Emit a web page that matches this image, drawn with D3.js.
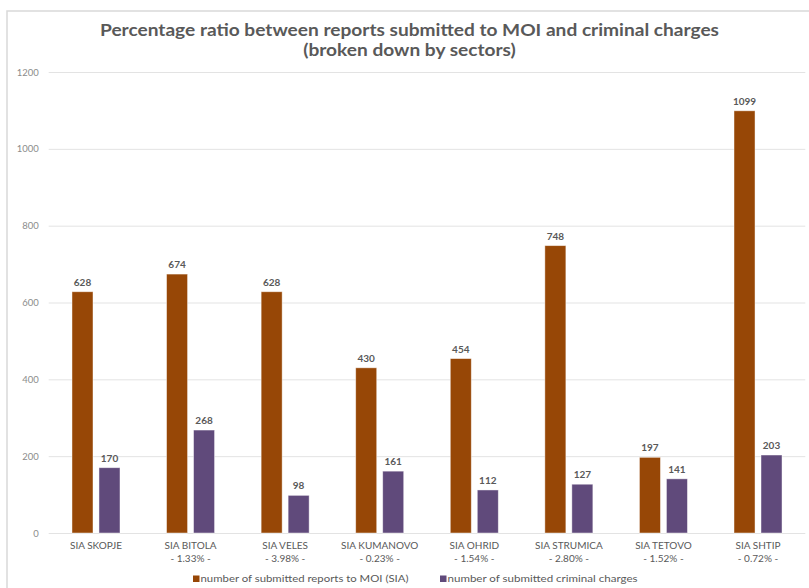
<!DOCTYPE html>
<html>
<head>
<meta charset="utf-8">
<script src="https://cdn.jsdelivr.net/npm/d3@7"></script>
<style>
  html, body { margin: 0; padding: 0; background: #fff; }
  svg { display: block; font-family: Lato, "Open Sans", sans-serif; }
</style>
</head>
<body>
<svg id="chart" width="809" height="588"></svg>
<script>
// Sectors and their percentage sub-labels
const sectors = ["SIA SKOPJE", "SIA BITOLA", "SIA VELES", "SIA KUMANOVO", "SIA OHRID", "SIA STRUMICA", "SIA TETOVO", "SIA SHTIP"];
const sectorPercents = ["", "- 1.33% -", "- 3.98% -", "- 0.23% -", "- 1.54% -", "- 2.80% -", "- 1.52% -", "- 0.72% -"];

// Series
const seriesNames = ["number of submitted reports to MOI (SIA)", "number of submitted criminal charges"];
const reportsToMOI = [628, 674, 628, 430, 454, 748, 197, 1099];
const criminalCharges = [170, 268, 98, 161, 112, 127, 141, 203];
const seriesColors = ["#974706", "#604a7b"];

// Axis ticks
const yTicks = [0, 200, 400, 600, 800, 1000, 1200];

const titleLines = ["Percentage ratio between reports submitted to MOI and criminal charges", "(broken down by sectors)"];

const svg = d3.select("#chart");
const W = 809, H = 588;

// Outer chart frame
svg.append("rect")
  .attr("x", 7).attr("y", 11)
  .attr("width", W + 20).attr("height", H + 20)
  .attr("fill", "#fff")
  .attr("stroke", "#d9d9d9").attr("stroke-width", 1.5);

// Title (slightly widened glyphs, as in the chart's typeface)
const titleWidth = 619;
const titleNodes = titleLines.map((t, i) => svg.append("text")
  .attr("x", 409.5).attr("y", 36 + i * 20)
  .attr("text-anchor", "middle")
  .attr("fill", "#595959")
  .attr("font-weight", "bold")
  .attr("font-size", 17)
  .text(t));
const stretch = titleWidth / titleNodes[0].node().getComputedTextLength();
titleNodes.forEach(n => {
  n.attr("textLength", n.node().getComputedTextLength() * stretch)
   .attr("lengthAdjust", "spacingAndGlyphs");
});

const plot = { left: 48.7, right: 805.3, top: 72, bottom: 533 };

const x0 = d3.scaleBand().domain(sectors).range([plot.left, plot.right]).padding(0);
const groupHalf = 24;
const x1 = d3.scaleBand().domain(seriesNames)
  .range([x0.bandwidth() / 2 - groupHalf, x0.bandwidth() / 2 + groupHalf])
  .paddingInner(0.222).paddingOuter(0);
const y = d3.scaleLinear().domain([0, 1200]).range([plot.bottom, plot.top]);

// Gridlines + y labels
const yAxis = d3.axisLeft(y).tickValues(yTicks).tickSize(-(plot.right - plot.left)).tickPadding(10).tickFormat(d3.format("d"));
const gy = svg.append("g").attr("transform", `translate(${plot.left},0)`).call(yAxis);
gy.select(".domain").remove();
gy.selectAll(".tick line").attr("stroke", "#e3e3e3").attr("stroke-width", 1);
gy.selectAll(".tick text").attr("fill", "#8c8c8c").attr("font-size", 9.5).attr("font-family", "Lato, sans-serif");

// Bars
const seriesValues = [reportsToMOI, criminalCharges];
const groups = svg.append("g").selectAll("g")
  .data(sectors)
  .join("g")
  .attr("transform", d => `translate(${x0(d)},0)`);

const barData = (d, i) => seriesNames.map((s, k) => ({ series: s, k, value: seriesValues[k][i] }));

groups.each(function (d, i) {
  const g = d3.select(this);
  const data = barData(d, i);
  g.selectAll("rect").data(data).join("rect")
    .attr("x", b => x1(b.series))
    .attr("width", x1.bandwidth())
    .attr("y", b => y(b.value))
    .attr("height", b => y(0) - y(b.value))
    .attr("fill", b => seriesColors[b.k])
    .attr("stroke", "rgba(255,255,255,0.55)")
    .attr("stroke-width", 0.8);
  g.selectAll("text.val").data(data).join("text")
    .attr("class", "val")
    .attr("x", b => x1(b.series) + x1.bandwidth() / 2)
    .attr("y", b => y(b.value) - 6)
    .attr("text-anchor", "middle")
    .attr("font-size", 10)
    .attr("font-weight", "bold")
    .attr("fill", "#595959")
    .text(b => b.value);
});

// Category labels
const xl = svg.append("g").selectAll("text")
  .data(sectors)
  .join("text")
  .attr("text-anchor", "middle")
  .attr("fill", "#595959")
  .attr("font-size", 10);
xl.append("tspan")
  .attr("x", d => x0(d) + x0.bandwidth() / 2)
  .attr("y", 549)
  .text(d => d);
xl.append("tspan")
  .attr("x", d => x0(d) + x0.bandwidth() / 2)
  .attr("y", 562)
  .text((d, i) => sectorPercents[i]);

// Legend
const legendX = [193, 440];
const legendTextW = [208, 190];
const legend = svg.append("g").selectAll("g")
  .data(seriesNames)
  .join("g")
  .attr("transform", (d, i) => `translate(${legendX[i]},575.5)`);
legend.append("rect")
  .attr("width", 6.5).attr("height", 6.5)
  .attr("fill", (d, i) => seriesColors[i]);
legend.append("text")
  .attr("x", 7.5).attr("y", 6.8)
  .attr("font-size", 10)
  .attr("fill", "#595959")
  .attr("textLength", (d, i) => legendTextW[i])
  .attr("lengthAdjust", "spacingAndGlyphs")
  .text(d => d);
</script>
</body>
</html>
